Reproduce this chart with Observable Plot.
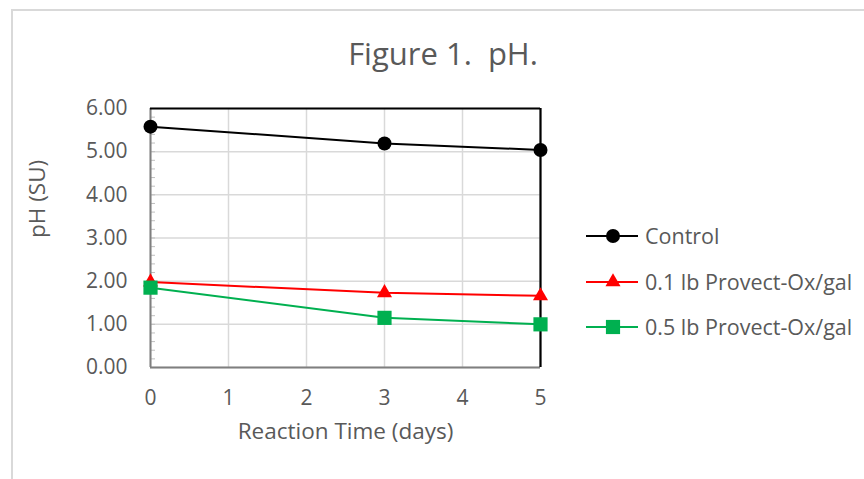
<!DOCTYPE html>
<html><head><meta charset="utf-8">
<script src="https://cdn.jsdelivr.net/npm/d3@7"></script>
<script src="https://cdn.jsdelivr.net/npm/@observablehq/plot@0.6"></script>
<style>
body{margin:0;background:#fff;font-family:"Open Sans",sans-serif;}
#wrap{position:relative;width:864px;height:479px;overflow:hidden;background:#fff;}
#frame{position:absolute;left:11px;top:9px;right:-5px;bottom:-5px;border-left:2px solid #d9d9d9;border-top:2px solid #d9d9d9;}
#title{position:absolute;left:0;width:886px;top:38px;line-height:1;text-align:center;font-size:31px;color:#595959;white-space:pre;}
#chart{position:absolute;left:0;top:0;}
.lg{position:absolute;left:586px;height:28px;line-height:28px;font-size:21.5px;color:#595959;white-space:nowrap;}
.lg svg{vertical-align:top;}
.lg span{position:absolute;left:59px;top:0px;}
</style></head>
<body>
<div id="wrap">
  <div id="frame"></div>
  <div id="title">Figure 1.  pH.</div>
  <div id="chart"></div>
  <div id="legend"></div>
</div>
<script>
const days = [0, 3, 5];
const seriesNames = ["Control", "0.1 lb Provect-Ox/gal", "0.5 lb Provect-Ox/gal"];
const control = [5.58, 5.19, 5.04];
const low = [1.98, 1.73, 1.66];
const high = [1.85, 1.15, 1.00];
const xTicks = [0, 1, 2, 3, 4, 5];
const yTicks = [0, 1, 2, 3, 4, 5, 6];
const colors = ["#000000", "#ff0000", "#00b050"];
const symbols = ["circle", "triangle", "square"];
const symbolR = [7, 5.6, 8];

const seriesValues = [control, low, high];
const table = [];
seriesNames.forEach((s, i) => days.forEach((d, j) => table.push({series: s, day: d, ph: seriesValues[i][j]})));
const minorTicks = d3.range(0, 6.001, 0.2);

const dots = seriesNames.map((s, i) => Plot.dot(table.filter(d => d.series === s), {
  x: "day", y: "ph", symbol: () => symbols[i], fill: colors[i], stroke: "none", r: symbolR[i]
}));

const chart = Plot.plot({
  width: 864, height: 479,
  marginLeft: 150, marginRight: 324, marginTop: 108, marginBottom: 112,
  x: {domain: [0, 5]},
  y: {domain: [0, 6]},
  symbol: {type: "identity"},
  style: {fontFamily: "'Open Sans', sans-serif", fontSize: "21px", color: "#595959", background: "transparent", overflow: "visible"},
  marks: [
    Plot.gridX(xTicks, {stroke: "#d9d9d9", strokeOpacity: 1, strokeWidth: 1.5}),
    Plot.gridY(yTicks, {stroke: "#d9d9d9", strokeOpacity: 1, strokeWidth: 1.5}),
    Plot.axisY(minorTicks, {tickSize: -5, text: null, stroke: "#bfbfbf", label: null}),
    Plot.ruleY([0], {stroke: "#7f7f7f", strokeWidth: 2}),
    Plot.ruleX([0], {stroke: "#7f7f7f", strokeWidth: 2}),
    Plot.ruleY([6], {stroke: "#000", strokeWidth: 2.2}),
    Plot.ruleX([5], {stroke: "#000", strokeWidth: 2.2}),
    Plot.axisX(xTicks, {tickSize: 0, tickPadding: 23, label: null, fill: "#595959", fontSize: 21}),
    Plot.axisY(yTicks, {tickSize: 0, tickPadding: 23, tickFormat: d3.format(".2f"), label: null, fill: "#595959", fontSize: 21}),
    Plot.text(["Reaction Time (days)"], {text: d => d, frameAnchor: "bottom", dy: 71, fill: "#595959", fontSize: 22.5}),
    Plot.text(["pH (SU)"], {text: d => d, frameAnchor: "left", dx: -113, rotate: -90, fill: "#595959", fontSize: 22.5}),
    Plot.line(table, {x: "day", y: "ph", z: "series", stroke: d => colors[seriesNames.indexOf(d.series)], strokeWidth: 2}),
    ...dots
  ]
});
document.getElementById("chart").appendChild(chart);

// legend
const legendY = [236, 282, 327];
const lg = document.getElementById("legend");
seriesNames.forEach((s, i) => {
  const row = document.createElement("div");
  row.className = "lg";
  row.style.top = (legendY[i] - 14) + "px";
  const sym = d3.symbol(i === 0 ? d3.symbolCircle : i === 1 ? d3.symbolTriangle : d3.symbolSquare, Math.PI * symbolR[i] * symbolR[i])();
  row.innerHTML = `<svg width="54" height="28"><line x1="0" x2="52" y1="14" y2="14" stroke="${colors[i]}" stroke-width="2"/><path d="${sym}" transform="translate(27,14)" fill="${colors[i]}"/></svg><span>${s}</span>`;
  lg.appendChild(row);
});
</script>
</body></html>
